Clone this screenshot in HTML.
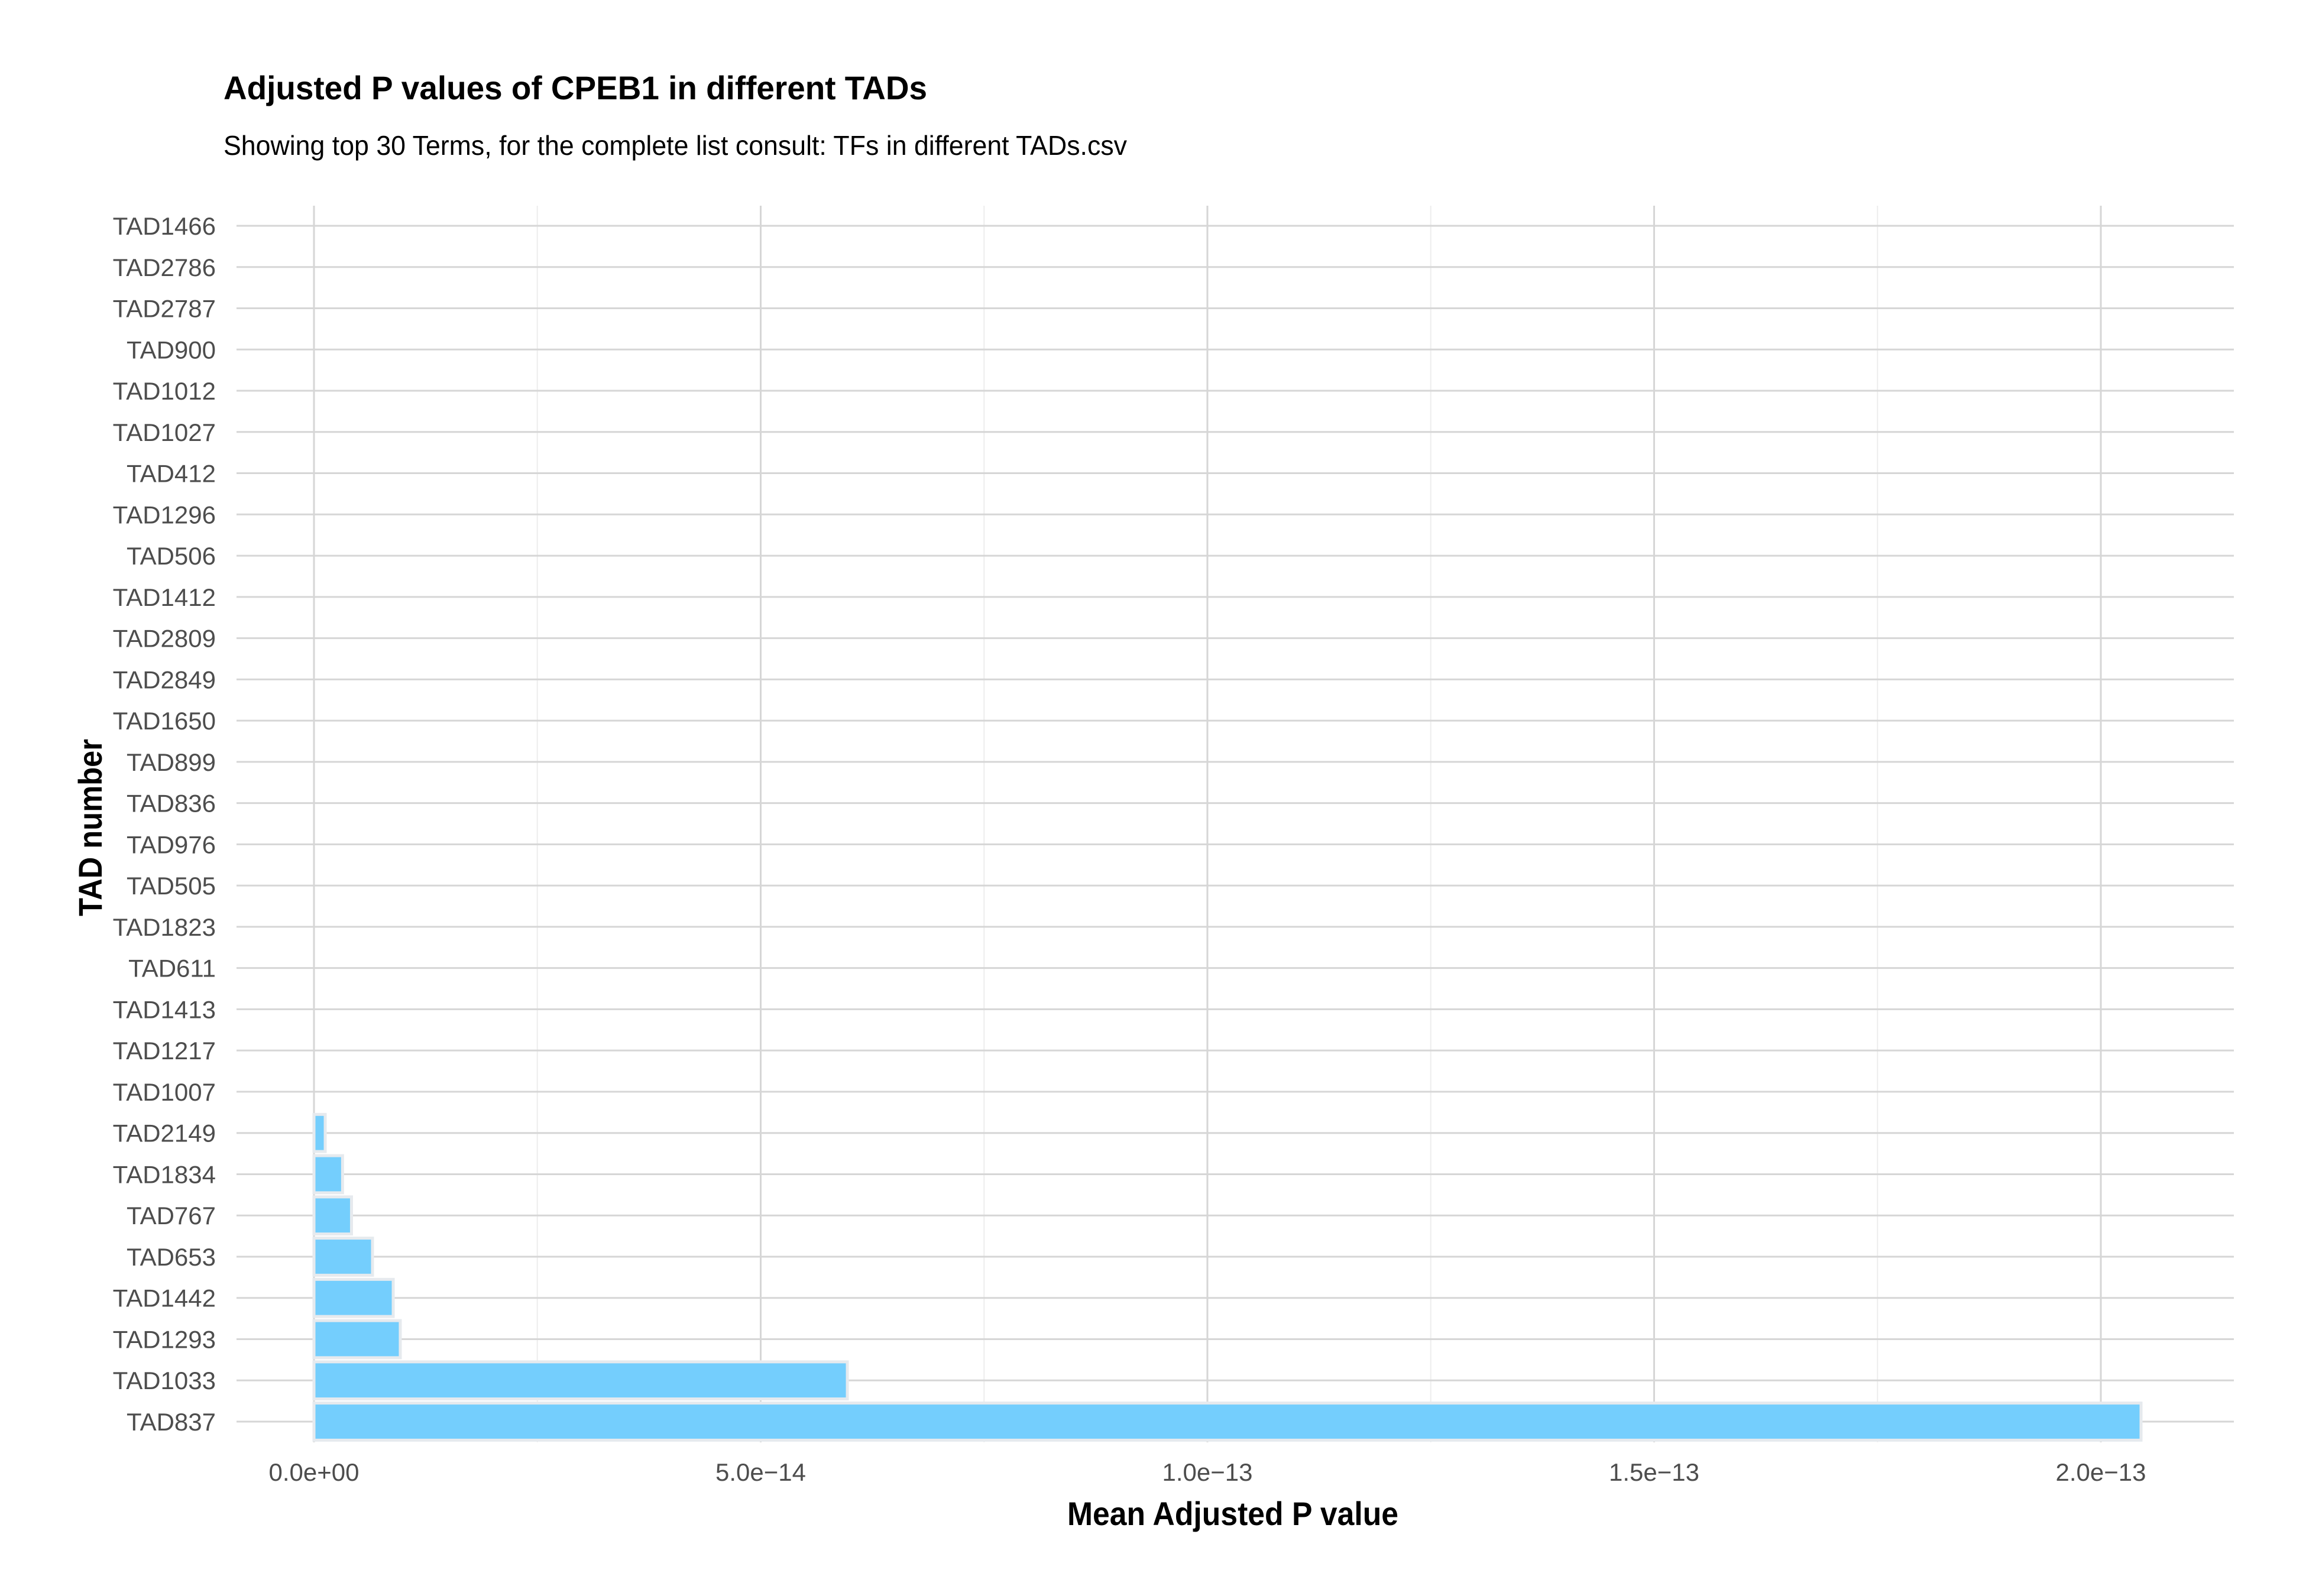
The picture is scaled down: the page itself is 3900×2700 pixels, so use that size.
<!DOCTYPE html>
<html><head><meta charset="utf-8"><style>
html,body{margin:0;padding:0;background:#fff;}
svg{display:block;font-family:"Liberation Sans Narrow","Liberation Sans",sans-serif;}
</style></head><body>
<svg id="chart" width="3900" height="2700" viewBox="0 0 3900 2700">
<text x="378" y="168" font-size="56" font-weight="bold" fill="#000" textLength="1190" lengthAdjust="spacingAndGlyphs">Adjusted P values of CPEB1 in different TADs</text>
<text x="378" y="262" font-size="46" fill="#000" textLength="1528" lengthAdjust="spacingAndGlyphs">Showing top 30 Terms, for the complete list consult: TFs in different TADs.csv</text>
<text x="1805" y="2580" font-size="56" font-weight="bold" fill="#000" textLength="560" lengthAdjust="spacingAndGlyphs">Mean Adjusted P value</text>
<text transform="translate(172,1550) rotate(-90)" font-size="56" font-weight="bold" fill="#000" textLength="300" lengthAdjust="spacingAndGlyphs">TAD number</text>
<g id="grid"></g>
<g id="bars"></g>
<g id="ylabels"></g>
<g id="xlabels"></g>
</svg>
<script>
const categories = ["TAD1466","TAD2786","TAD2787","TAD900","TAD1012","TAD1027","TAD412","TAD1296","TAD506","TAD1412","TAD2809","TAD2849","TAD1650","TAD899","TAD836","TAD976","TAD505","TAD1823","TAD611","TAD1413","TAD1217","TAD1007","TAD2149","TAD1834","TAD767","TAD653","TAD1442","TAD1293","TAD1033","TAD837"];
const values = [0,0,0,0,0,0,0,0,0,0,0,0,0,0,0,0,0,0,0,0,0,0,1.26e-15,3.2e-15,4.2e-15,6.55e-15,8.87e-15,9.66e-15,5.97e-14,2.045e-13];
const xTicks = [0,5e-14,1e-13,1.5e-13,2e-13];
const xTickLabels = ["0.0e+00","5.0e\u221214","1.0e\u221213","1.5e\u221213","2.0e\u221213"];

const NS = "http://www.w3.org/2000/svg";
const x0 = 531, pxPer = 1511e13;
const xScale = v => x0 + v * pxPer;
const yTop = 382, yBot = 2405;
const step = (yBot - yTop) / (categories.length - 1);
const yScale = i => yTop + i * step;
const panelL = 400, panelR = 3778, panelT = 348, panelB = 2440;
function mk(tag, attrs, parent){const e=document.createElementNS(NS,tag);for(const k in attrs)e.setAttribute(k,attrs[k]);parent.appendChild(e);return e;}
const grid=document.getElementById('grid'), bars=document.getElementById('bars'), yl=document.getElementById('ylabels'), xl=document.getElementById('xlabels');
for(let i=0;i<xTicks.length;i++){
  const m=xTicks[i]+2.5e-14; const mx=xScale(m);
  if(mx<panelR){const l=mk('line',{x1:mx,x2:mx,y1:panelT,y2:panelB,stroke:'#ededed','stroke-width':2},grid);
  
  }
}
xTicks.forEach((t,i)=>{
  const x=xScale(t);
  const l=mk('line',{x1:x,x2:x,y1:panelT,y2:panelB,stroke:'#d6d6d6','stroke-width':3},grid);
  
  
  const tx=mk('text',{x:x,y:2505,'font-size':42,fill:'#4d4d4d','text-anchor':'middle'},xl);
  tx.textContent=xTickLabels[i];
  
  
});
categories.forEach((c,i)=>{
  const y=yScale(i);
  const l=mk('line',{x1:panelL,x2:panelR,y1:y,y2:y,stroke:'#d6d6d6','stroke-width':3},grid);
  
  
  const t=mk('text',{x:365,y:y+15,'font-size':42,fill:'#4d4d4d','text-anchor':'end'},yl);
  t.textContent=c;
  
  
  const h=step*0.9, w=xScale(values[i])-x0;
  if(w>0.5){
    const r=mk('rect',{x:x0,y:y-h/2,width:w,height:h,fill:'#74cefd',stroke:'#e6eaee','stroke-width':5},bars);
    
    
  }
});
</script>
</body></html>
